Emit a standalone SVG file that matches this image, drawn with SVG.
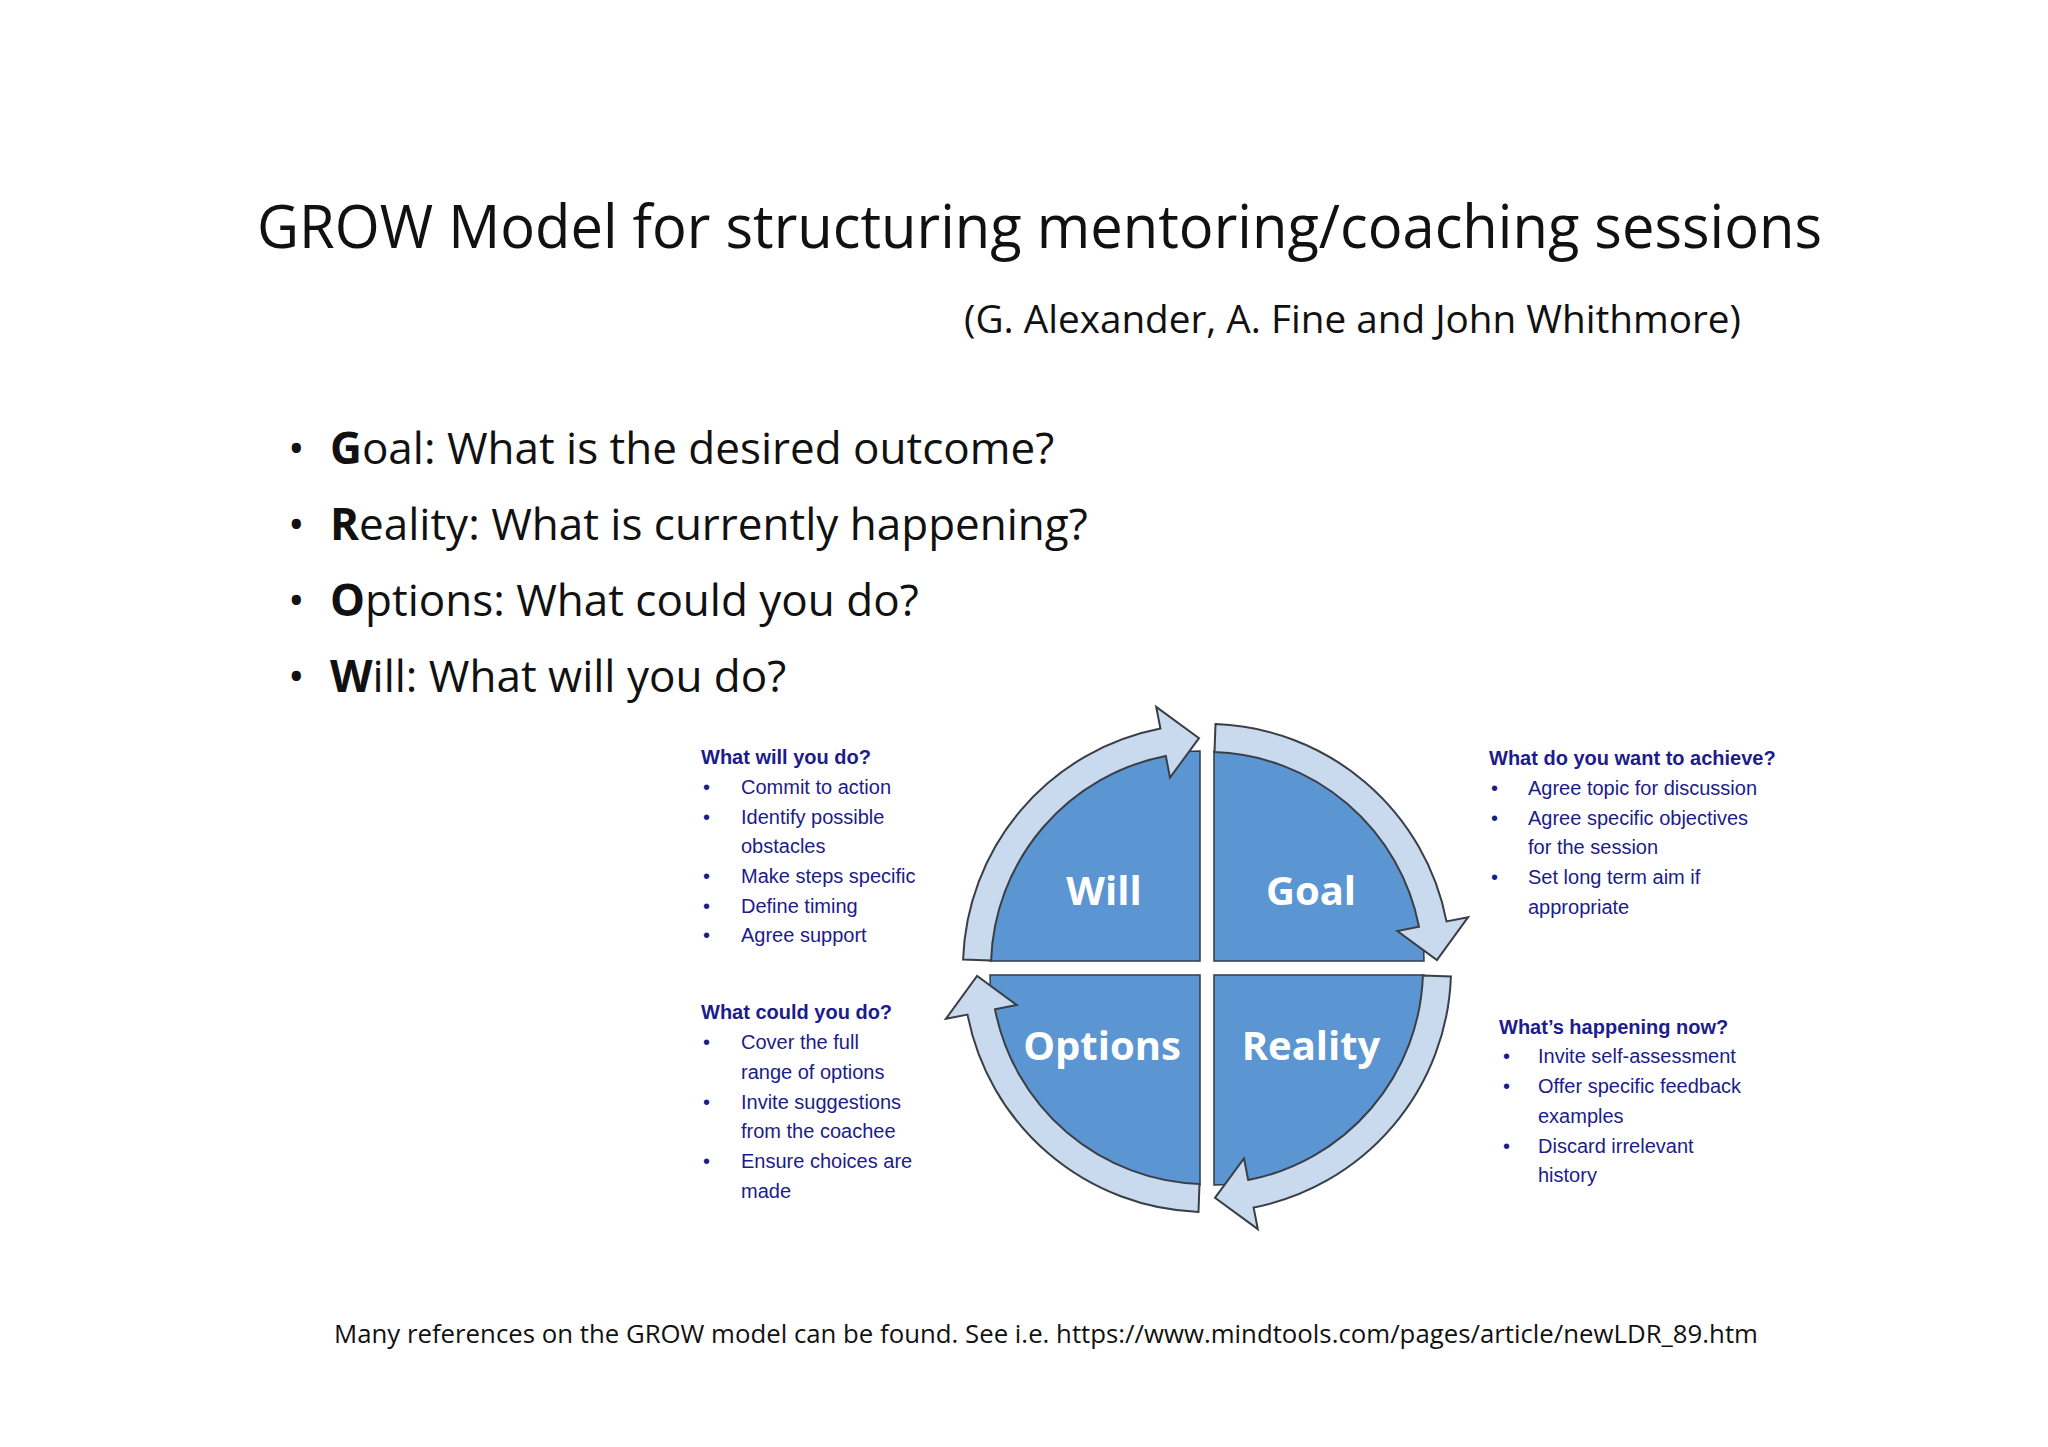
<svg xmlns="http://www.w3.org/2000/svg" width="2048" height="1447" viewBox="0 0 2048 1447">
<style>
.t{font-family:"Open Sans","Liberation Sans",sans-serif;fill:#111}
.q{fill:#5b96d2;stroke:#2f3b48;stroke-width:1.5}
.ar{fill:#c9d9ee;stroke:#3a3f46;stroke-width:2}
.lb{font-family:"Open Sans","Liberation Sans",sans-serif;font-weight:bold;fill:#fff;font-size:40px;text-anchor:middle}
.s{font-family:"Liberation Sans",sans-serif;font-size:20px;fill:#1c1c8a}
.h{font-weight:bold}
</style>
<defs>
<path id="arw" d="M991.1 960.5 L963.1 959.5 A244 244 0 0 1 1160.4 728.5 L1156.2 706.9 L1199 738.1 L1170 777.6 L1165.8 756 A216 216 0 0 0 991.1 960.5 Z"/>
<path id="qd" d="M1200 961 H990 A210 210 0 0 1 1200 751 Z"/>
</defs>
<rect width="2048" height="1447" fill="#fff"/>
<text class="t" x="257" y="248" font-size="60" textLength="1565" lengthAdjust="spacingAndGlyphs">GROW Model for structuring mentoring/coaching sessions</text>
<text class="t" x="964" y="333" font-size="38" textLength="777" lengthAdjust="spacingAndGlyphs">(G. Alexander, A. Fine and John Whithmore)</text>
<g class="t" font-size="44">
<text x="288" y="464">•</text><text x="330" y="464"><tspan font-weight="bold">G</tspan>oal: What is the desired outcome?</text>
<text x="288" y="540">•</text><text x="330" y="540"><tspan font-weight="bold">R</tspan>eality: What is currently happening?</text>
<text x="288" y="616">•</text><text x="330" y="616"><tspan font-weight="bold">O</tspan>ptions: What could you do?</text>
<text x="288" y="692">•</text><text x="330" y="692"><tspan font-weight="bold">W</tspan>ill: What will you do?</text>
</g>
<g id="quadrants">
<use href="#qd" class="q"/>
<use href="#qd" class="q" transform="rotate(90 1207 968)"/>
<use href="#qd" class="q" transform="rotate(180 1207 968)"/>
<use href="#qd" class="q" transform="rotate(270 1207 968)"/>
</g>
<g id="connectors">
<use href="#arw" class="ar"/>
<use href="#arw" class="ar" transform="rotate(90 1207 968)"/>
<use href="#arw" class="ar" transform="rotate(180 1207 968)"/>
<use href="#arw" class="ar" transform="rotate(270 1207 968)"/>
</g>
<g id="labels">
<text class="lb" x="1104" y="905">Will</text>
<text class="lb" x="1311" y="905">Goal</text>
<text class="lb" x="1102" y="1060">Options</text>
<text class="lb" x="1311" y="1060">Reality</text>
</g>
<g id="will-text" class="s">
<text class="h" x="701" y="764">What will you do?</text>
<text x="703" y="794">•</text><text x="741" y="794">Commit to action</text>
<text x="703" y="824">•</text><text x="741" y="824">Identify possible</text>
<text x="741" y="853">obstacles</text>
<text x="703" y="883">•</text><text x="741" y="883">Make steps specific</text>
<text x="703" y="913">•</text><text x="741" y="913">Define timing</text>
<text x="703" y="942">•</text><text x="741" y="942">Agree support</text>
</g>
<g id="options-text" class="s">
<text class="h" x="701" y="1019">What could you do?</text>
<text x="703" y="1049">•</text><text x="741" y="1049">Cover the full</text>
<text x="741" y="1079">range of options</text>
<text x="703" y="1109">•</text><text x="741" y="1109">Invite  suggestions</text>
<text x="741" y="1138">from the coachee</text>
<text x="703" y="1168">•</text><text x="741" y="1168">Ensure choices are</text>
<text x="741" y="1198">made</text>
</g>
<g id="goal-text" class="s">
<text class="h" x="1489" y="765">What do you want to achieve?</text>
<text x="1491" y="795">•</text><text x="1528" y="795">Agree topic for discussion</text>
<text x="1491" y="825">•</text><text x="1528" y="825">Agree specific objectives</text>
<text x="1528" y="854">for the session</text>
<text x="1491" y="884">•</text><text x="1528" y="884">Set long term aim if</text>
<text x="1528" y="914">appropriate</text>
</g>
<g id="reality-text" class="s">
<text class="h" x="1499" y="1034">What’s happening now?</text>
<text x="1503" y="1063">•</text><text x="1538" y="1063">Invite self-assessment</text>
<text x="1503" y="1093">•</text><text x="1538" y="1093">Offer specific feedback</text>
<text x="1538" y="1123">examples</text>
<text x="1503" y="1153">•</text><text x="1538" y="1153">Discard irrelevant</text>
<text x="1538" y="1182">history</text>
</g>
<text class="t" x="334" y="1343" font-size="26" textLength="1424" lengthAdjust="spacingAndGlyphs">Many references on the GROW model can be found. See i.e. https://www.mindtools.com/pages/article/newLDR_89.htm</text>
</svg>
